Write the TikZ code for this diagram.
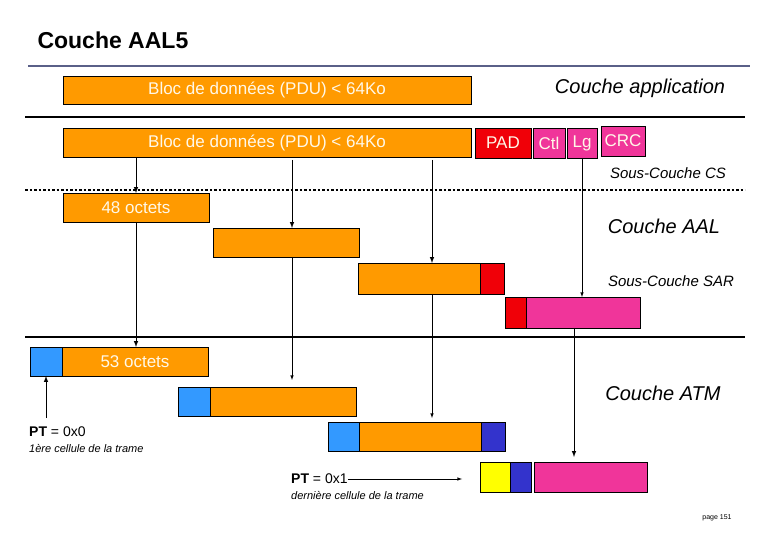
\documentclass[tikz,border=0pt]{standalone}
\usepackage{fontspec}
\setmainfont{Liberation Sans}
\definecolor{org}{HTML}{FF9A00}
\definecolor{rd}{HTML}{F00008}
\definecolor{mg}{HTML}{F0359A}
\definecolor{bl}{HTML}{3399FF}
\definecolor{db}{HTML}{3333CC}
\definecolor{yl}{HTML}{FFFF00}
\definecolor{tl}{HTML}{5A6088}
\definecolor{wt}{HTML}{FFF8E8}
\begin{document}
\begin{tikzpicture}[x=1pt,y=-1pt,
  box/.style={draw=black,line width=0.8pt,inner sep=0pt,outer sep=0pt},
  bt/.style={font=\fontsize{17}{17}\selectfont,text=wt},
  lab/.style={font=\fontsize{20}{20}\selectfont\itshape,anchor=center},
  slab/.style={font=\fontsize{15}{15}\selectfont\itshape,anchor=center},
  arr/.style={-latex,line width=1pt},
  tarr/.style={-latex,line width=0.6pt}]
\useasboundingbox (0,0) rectangle (780,540);
\node[font=\fontsize{23}{23}\selectfont\bfseries,anchor=west] (title) at (34,40) {Couche AAL5};
\draw[tl,line width=2pt] (28,66) coordinate (t1) -- (750,66) coordinate (t2);
% application
\node[box,fill=org,minimum width=408,minimum height=28,bt] (pdu1) at (267,90) {Bloc de données (PDU) < 64Ko};
\node[lab] (app) at (640,88) {Couche application};
\draw[line width=2pt] (25,117) coordinate (s1a) -- (745,117) coordinate (s1b);
% CS
\node[box,fill=org,minimum width=408,minimum height=29,bt] (pdu2) at (267,143) {Bloc de données (PDU) < 64Ko};
\node[box,fill=rd,minimum width=56,minimum height=30,bt] (pad) at (503,143) {PAD};
\node[box,fill=mg,minimum width=32,minimum height=30,bt] (ctl) at (549,143) {Ctl};
\node[box,fill=mg,minimum width=30,minimum height=30,bt] (lg) at (582,143) {Lg};
\node[box,fill=mg,minimum width=44,minimum height=30,bt,anchor=west] (crc) at (601,141) {CRC};
\node[slab] (cs) at (668,173) {Sous-Couche CS};
\draw[line width=2.5pt,dotted] (25,190) coordinate (d1) -- (745,190) coordinate (d2);
% SAR
\node[box,fill=org,minimum width=146,minimum height=29,bt] (o48) at (136,207.5) {48 octets};
\node[box,fill=org,minimum width=146,minimum height=29] (s2) at (286,242.5) {};
\node[box,fill=org,minimum width=122,minimum height=31] (s3) at (419,278.5) {};
\node[box,fill=rd,minimum width=24,minimum height=31,anchor=west] (s3r) at (480,278.5) {};
\node[box,fill=rd,minimum width=21,minimum height=31] (s4r) at (515.5,312.5) {};
\node[box,fill=mg,minimum width=114,minimum height=31,anchor=west] (s4) at (526,312.5) {};
\node[lab] (aal) at (664,226) {Couche AAL};
\node[slab] (sar) at (671,281) {Sous-Couche SAR};
\draw[line width=2pt] (25,337) coordinate (s2a) -- (745,337) coordinate (s2b);
\draw[arr] (pdu2.south -| o48.north) -- (o48.north);
\draw[arr] (292,160) -- (292,228);
\draw[arr] (432,160) -- (432,263);
\draw[tarr] (lg.south) -- (lg.south |- s4.north);
% ATM
\node[box,fill=bl,minimum width=32,minimum height=29] (c1b) at (46,361.5) {};
\node[box,fill=org,minimum width=146,minimum height=29,bt,anchor=west] (c1o) at (62,361.5) {53 octets};
\node[box,fill=bl,minimum width=32,minimum height=29] (c2b) at (194,401.5) {};
\node[box,fill=org,minimum width=146,minimum height=29,anchor=west] (c2o) at (210,401.5) {};
\node[box,fill=bl,minimum width=31,minimum height=29] (c3b) at (343.5,436.5) {};
\node[box,fill=org,minimum width=122,minimum height=29,anchor=west] (c3o) at (359,436.5) {};
\node[box,fill=db,minimum width=24,minimum height=29,anchor=west] (c3d) at (481,436.5) {};
\node[box,fill=yl,minimum width=30,minimum height=30] (c4y) at (495,477) {};
\node[box,fill=db,minimum width=21,minimum height=30,anchor=west] (c4d) at (510,477) {};
\node[box,fill=mg,minimum width=113,minimum height=30,anchor=west] (c4m) at (534,477) {};
\draw[arr] (o48.south) -- (o48.south |- c1o.north);
\draw[tarr] (s2.south -| 292,0) -- (292,380);
\draw[tarr] (s3.south -| 432,0) -- (432,418);
\draw[arr] (s4.south -| 574,0) -- (574,457);
\draw[arr] (46,418) coordinate (pt0) -- (c1b.south);
\node[lab] (atm) at (663,393) {Couche ATM};
\node[anchor=west,font=\fontsize{14}{14}\selectfont,inner sep=0pt] (pt0t) at (29,432) {\textbf{PT} = 0x0};
\node[anchor=west,font=\fontsize{11}{11}\selectfont\itshape,inner sep=0pt] (pt0s) at (29,449) {1ère cellule de la trame};
\node[anchor=west,font=\fontsize{14}{14}\selectfont,inner sep=0pt] (pt1t) at (291,479) {\textbf{PT} = 0x1};
\draw[tarr] (pt1t.east) -- (462,479);
\node[anchor=west,font=\fontsize{11}{11}\selectfont\itshape,inner sep=0pt] (pt1s) at (291,496) {dernière cellule de la trame};
\node[font=\fontsize{7}{7}\selectfont,anchor=center] (pg) at (717,518) {page 151};
\end{tikzpicture}
\end{document}
